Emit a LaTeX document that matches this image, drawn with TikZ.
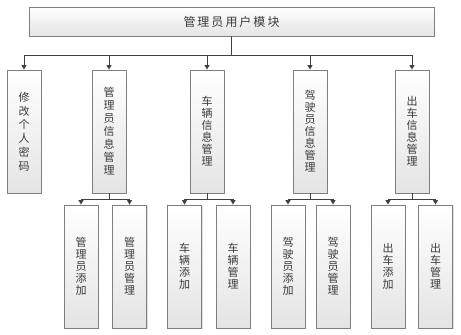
\documentclass[tikz,border=0pt]{standalone}
\usepackage{fontspec}
\usepackage{tikz}
\usetikzlibrary{arrows.meta,shadows}
\newfontfamily\cjk{Noto Sans CJK SC}
\definecolor{boxline}{HTML}{7F7F7F}
\definecolor{boxfill}{HTML}{E4E4E4}
\definecolor{wire}{HTML}{404040}
\definecolor{inktext}{HTML}{3A3A3A}

\begin{document}
\begin{tikzpicture}[x=1pt,y=-1pt,
  plainBox/.style={rectangle,draw=boxline,line width=0.9pt,
    top color=white,bottom color=boxfill,text=inktext,
    drop shadow={shadow xshift=1pt,shadow yshift=-1pt,opacity=0.25},
    inner sep=0pt,align=center},
  mainBox/.style={plainBox,minimum width=405pt,minimum height=29pt,
    font=\cjk\fontsize{12}{14}\selectfont},
  subBox/.style={plainBox,minimum width=34pt,minimum height=123pt,
    font=\cjk\fontsize{11}{12}\selectfont},
  link/.style={wire,line width=0.9pt},
  arr/.style={link,-{Triangle[length=4.5pt,width=5pt]}}
]
\useasboundingbox (0,0) rectangle (461,335);

% top module
\node[mainBox] (top) at (231.5,21.5) {管\,理\,员\,用\,户\,模\,块};

% second level
\node[subBox,font=\cjk\fontsize{11}{13.8}\selectfont] (pwd) at (24,131.5) {修\\改\\个\\人\\密\\码};
\node[subBox,font=\cjk\fontsize{11}{13}\selectfont] (adm) at (109,131.5) {管\\理\\员\\信\\息\\管\\理};
\node[subBox] (car) at (207,131.5) {车\\辆\\信\\息\\管\\理};
\node[subBox] (drv) at (310,131.5) {驾\\驶\\员\\信\\息\\管\\理};
\node[subBox] (out) at (412,131.5) {出\\车\\信\\息\\管\\理};

% third level
\node[subBox] (admAdd) at (81,266.5) {管\\理\\员\\添\\加};
\node[subBox] (admMan) at (129.5,266.5) {管\\理\\员\\管\\理};
\node[subBox] (carAdd) at (184.5,266.5) {车\\辆\\添\\加};
\node[subBox] (carMan) at (233,266.5) {车\\辆\\管\\理};
\node[subBox] (drvAdd) at (288,266.5) {驾\\驶\\员\\添\\加};
\node[subBox] (drvMan) at (333,266.5) {驾\\驶\\员\\管\\理};
\node[subBox] (outAdd) at (388,266.5) {出\\车\\添\\加};
\node[subBox] (outMan) at (435.5,266.5) {出\\车\\管\\理};

% connectors
\coordinate (bus) at (top.south |- 0,55);
\draw[link] (top.south) -- (bus);
\foreach \n in {pwd,adm,car,drv,out}
  \draw[arr] (bus) -| (\n.north);

\foreach \p/\a/\b in {adm/admAdd/admMan,car/carAdd/carMan,drv/drvAdd/drvMan,out/outAdd/outMan}{
  \coordinate (\p Bus) at (\p.south |- 0,199);
  \draw[link] (\p.south) -- (\p Bus);
  \draw[arr] (\p Bus) -| (\a.north);
  \draw[arr] (\p Bus) -| (\b.north);
}
\end{tikzpicture}
\end{document}
